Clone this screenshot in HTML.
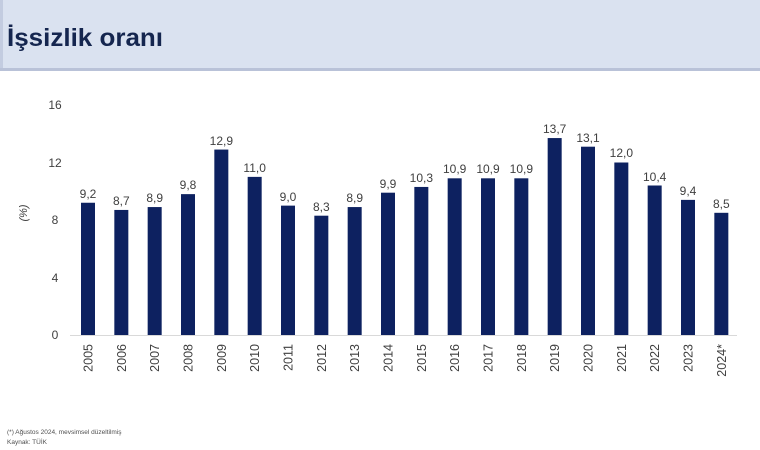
<!DOCTYPE html>
<html><head><meta charset="utf-8"><style>
html,body{margin:0;padding:0;background:#fff;}
svg{display:block;font-family:"Liberation Sans",sans-serif;}
</style></head><body>
<svg width="760" height="450" viewBox="0 0 760 450" xmlns="http://www.w3.org/2000/svg">
<rect x="0" y="0" width="760" height="71" fill="#dae2f0"/>
<rect x="0" y="0" width="3" height="71" fill="#c3cce0"/>
<rect x="0" y="68" width="760" height="3" fill="#b9c2d8"/>
<text x="7" y="46" font-size="25" font-weight="bold" fill="#15264f" textLength="156" lengthAdjust="spacingAndGlyphs">İşsizlik oranı</text>
<line x1="70" y1="335.5" x2="737" y2="335.5" stroke="#d9d9d9" stroke-width="1"/>
<g font-size="12" fill="#404040" text-anchor="middle">
<text x="55" y="109">16</text>
<text x="55" y="167">12</text>
<text x="55" y="224">8</text>
<text x="55" y="282">4</text>
<text x="55" y="339">0</text>
</g>
<text transform="translate(27,213) rotate(-90)" font-size="11" font-style="italic" fill="#404040" text-anchor="middle">(%)</text>
<g fill="#0d2160">
<rect x="81" y="202.75" width="14" height="132.25"/>
<rect x="114.33" y="209.94" width="14" height="125.06"/>
<rect x="147.67" y="207.06" width="14" height="127.94"/>
<rect x="181" y="194.13" width="14" height="140.87"/>
<rect x="214.33" y="149.56" width="14" height="185.44"/>
<rect x="247.67" y="176.88" width="14" height="158.12"/>
<rect x="281" y="205.63" width="14" height="129.37"/>
<rect x="314.33" y="215.69" width="14" height="119.31"/>
<rect x="347.67" y="207.06" width="14" height="127.94"/>
<rect x="381" y="192.69" width="14" height="142.31"/>
<rect x="414.33" y="186.94" width="14" height="148.06"/>
<rect x="447.67" y="178.31" width="14" height="156.69"/>
<rect x="481" y="178.31" width="14" height="156.69"/>
<rect x="514.33" y="178.31" width="14" height="156.69"/>
<rect x="547.67" y="138.06" width="14" height="196.94"/>
<rect x="581" y="146.69" width="14" height="188.31"/>
<rect x="614.33" y="162.5" width="14" height="172.5"/>
<rect x="647.67" y="185.5" width="14" height="149.5"/>
<rect x="681" y="199.88" width="14" height="135.12"/>
<rect x="714.33" y="212.81" width="14" height="122.19"/>
</g>
<g font-size="12" fill="#404040" text-anchor="middle">
<text x="88" y="198">9,2</text>
<text x="121.33" y="205">8,7</text>
<text x="154.67" y="202">8,9</text>
<text x="188" y="189">9,8</text>
<text x="221.33" y="145">12,9</text>
<text x="254.67" y="172">11,0</text>
<text x="288" y="201">9,0</text>
<text x="321.33" y="211">8,3</text>
<text x="354.67" y="202">8,9</text>
<text x="388" y="188">9,9</text>
<text x="421.33" y="182">10,3</text>
<text x="454.67" y="173">10,9</text>
<text x="488" y="173">10,9</text>
<text x="521.33" y="173">10,9</text>
<text x="554.67" y="133">13,7</text>
<text x="588" y="142">13,1</text>
<text x="621.33" y="157">12,0</text>
<text x="654.67" y="181">10,4</text>
<text x="688" y="195">9,4</text>
<text x="721.33" y="208">8,5</text>
</g>
<g font-size="12.5" fill="#404040" text-anchor="end">
<text transform="translate(92.5,344) rotate(-90)">2005</text>
<text transform="translate(125.83,344) rotate(-90)">2006</text>
<text transform="translate(159.17,344) rotate(-90)">2007</text>
<text transform="translate(192.5,344) rotate(-90)">2008</text>
<text transform="translate(225.83,344) rotate(-90)">2009</text>
<text transform="translate(259.17,344) rotate(-90)">2010</text>
<text transform="translate(292.5,344) rotate(-90)">2011</text>
<text transform="translate(325.83,344) rotate(-90)">2012</text>
<text transform="translate(359.17,344) rotate(-90)">2013</text>
<text transform="translate(392.5,344) rotate(-90)">2014</text>
<text transform="translate(425.83,344) rotate(-90)">2015</text>
<text transform="translate(459.17,344) rotate(-90)">2016</text>
<text transform="translate(492.5,344) rotate(-90)">2017</text>
<text transform="translate(525.83,344) rotate(-90)">2018</text>
<text transform="translate(559.17,344) rotate(-90)">2019</text>
<text transform="translate(592.5,344) rotate(-90)">2020</text>
<text transform="translate(625.83,344) rotate(-90)">2021</text>
<text transform="translate(659.17,344) rotate(-90)">2022</text>
<text transform="translate(692.5,344) rotate(-90)">2023</text>
<text transform="translate(725.83,344) rotate(-90)">2024*</text>
</g>
<text x="7" y="434" font-size="6.5" fill="#505050">(*) Ağustos 2024, mevsimsel düzeltilmiş</text>
<text x="7" y="444" font-size="6.5" fill="#505050">Kaynak: TÜİK</text>
</svg>
</body></html>
